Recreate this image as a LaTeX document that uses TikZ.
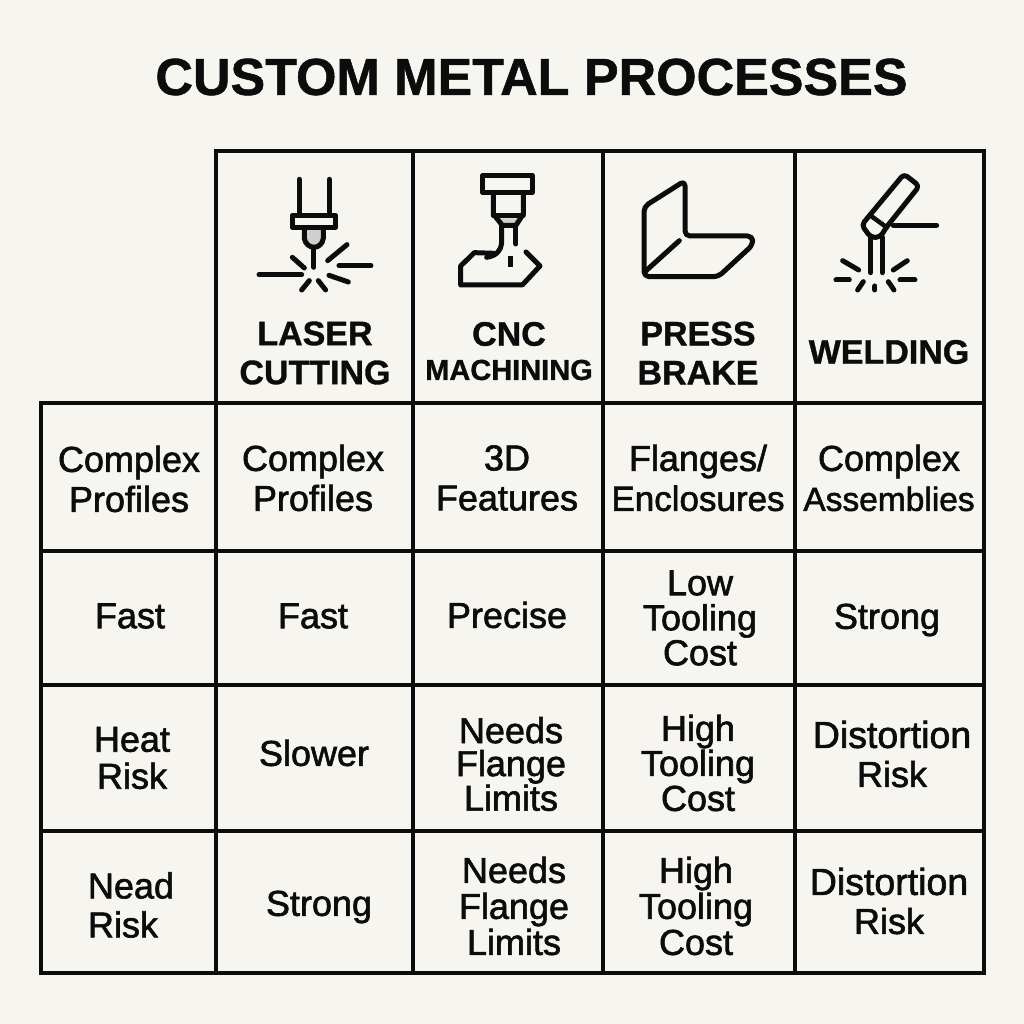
\documentclass[tikz,border=0pt]{standalone}
\usepackage{fontspec}
\setmainfont{Liberation Sans}
\newfontfamily\bodyf[FakeBold=1.7]{Liberation Sans}
\newfontfamily\headf[FakeBold=1.0]{Liberation Sans Bold}
\definecolor{paper}{HTML}{F7F5F0}
\definecolor{ink}{HTML}{0C0C0C}
\definecolor{fillgrey}{HTML}{CFCFCD}
\newcommand{\sz}[1]{\fontsize{#1}{39}\selectfont}
\tikzset{
  cell/.style={align=center,inner sep=0pt,text=ink,font=\bodyf\fontsize{36}{#1}\selectfont},
  cell/.default=38,
  head/.style={align=center,inner sep=0pt,text=ink,font=\headf\fontsize{#1}{39}\selectfont},
  grid/.style={draw=ink,line width=3.3pt,line cap=rect},
  icon/.style={draw=ink,line width=5pt,line cap=round,line join=round},
  thinicon/.style={draw=ink,line width=4.5pt,line cap=round,line join=round},
}
\begin{document}
\begin{tikzpicture}[x=1pt,y=-1pt]
\useasboundingbox[fill=paper] (0,0) rectangle (1024,1024);
% title
\node[head=52,anchor=center] (title) at (531.5,77) {CUSTOM METAL PROCESSES};
% grid
\draw[grid] (216,151) -- (984,151);
\draw[grid] (41,403) -- (984,403);
\draw[grid] (41,551) -- (984,551);
\draw[grid] (41,685) -- (984,685);
\draw[grid] (41,831) -- (984,831);
\draw[grid] (41,973) -- (984,973);
\draw[grid] (41,403) -- (41,973);
\draw[grid] (216,151) -- (216,973);
\draw[grid] (413,151) -- (413,973);
\draw[grid] (603,151) -- (603,973);
\draw[grid] (795,151) -- (795,973);
\draw[grid] (984,151) -- (984,973);
% laser icon
\begin{scope}[shift={(215,150)},x=0.3333pt,y=-0.3333pt]
\fill[fillgrey] (268,235) -- (268,265) .. controls (270,282) and (285,292) .. (297,292) .. controls (310,292) and (323,282) .. (325,265) -- (325,235) -- cycle;
\draw[icon] (253,88) -- (253,195);
\draw[icon] (343,88) -- (343,195);
\draw[icon,fill=paper] (232,196) rectangle (362,232);
\draw[icon] (268,235) -- (268,265) .. controls (270,282) and (285,292) .. (297,292) .. controls (310,292) and (323,282) .. (325,265) -- (325,235);
\draw[icon] (297,292) -- (297,352);
\draw[icon] (232,322) -- (268,354);
\draw[icon] (338,332) -- (396,284);
\draw[icon] (372,347) -- (468,347);
\draw[icon] (132,374) -- (260,374);
\draw[icon] (342,376) -- (400,396);
\draw[icon] (260,420) -- (283,392);
\draw[icon] (310,392) -- (332,420);
% cnc icon
\fill[fillgrey] (852,205) -- (908,205) -- (895,224) -- (865,224) -- cycle;
\draw[icon] (803,76) rectangle (952,128);
\draw[icon] (835,130) -- (835,192) -- (862,226) -- (903,226) -- (925,192) -- (925,130);
\draw[icon] (835,197) -- (925,197);
\draw[icon] (860,228) -- (860,280) .. controls (858,300) and (845,318) .. (815,322);
\draw[icon] (903,228) -- (903,282);
\draw[icon] (838,310) -- (778,308) -- (737,348) -- (737,405) -- (922,405) -- (975,348) -- (933,306);
\draw[icon,line cap=butt] (886,318) -- (886,350);
\end{scope}
% press brake and welding icons
\begin{scope}[shift={(600,150)},x=0.3333pt,y=-0.3333pt]
\draw[icon,rounded corners=5pt] (132,170) -- (255,92) -- (255,258) -- (458,258) -- (458,285) -- (355,380) -- (132,380) -- cycle;
\draw[icon] (135,365) -- (238,272);
\draw[icon,rounded corners=4pt] (785,225) -- (912,72) -- (958,108) -- (862,228) -- (840,262) -- (812,262) -- cycle;
\draw[thinicon] (812,197) -- (860,232);
\draw[icon] (812,262) -- (812,368);
\draw[icon] (847,262) -- (847,368);
\draw[icon] (880,226) -- (1010,226);
\draw[icon] (728,332) -- (776,360);
\draw[icon] (880,360) -- (922,332);
\draw[icon] (708,390) -- (748,390);
\draw[icon] (900,390) -- (945,390);
\draw[icon] (773,420) -- (790,395);
\draw[icon] (825,408) -- (825,420);
\draw[icon] (865,395) -- (882,420);
\end{scope}
% header labels
\node[head=34] (h1) at (315,353) {LASER\\CUTTING};
\node[head=34] (h2a) at (509,334) {CNC};
\node[head=29] (h2b) at (509,370) {MACHINING};
\node[head=34] (h3) at (698,353) {PRESS\\BRAKE};
\node[head=34] (h4) at (889,352) {WELDING};
% row 1
\node[cell=40] (a1) at (129,479) {Complex\\Profiles};
\node[cell=40] (b1) at (313,478) {Complex\\Profiles};
\node[cell=40] (c1) at (507,478) {3D\\Features};
\node[cell=40] (d1) at (698,478) {Flanges/\\\sz{35}Enclosures};
\node[cell=40] (e1) at (889,478) {Complex\\\sz{33.5}Assemblies};
% row 2
\node[cell] (a2) at (130,616) {Fast};
\node[cell] (b2) at (313,616) {Fast};
\node[cell] (c2) at (507,615) {Precise};
\node[cell=35] (d2) at (700,618) {Low\\Tooling\\Cost};
\node[cell] (e2) at (887,620) {Strong};
% row 3
\node[cell=37] (a3) at (132,758) {Heat\\Risk};
\node[cell] (b3) at (314,753) {Slower};
\node[cell=33] (c3) at (511,764) {Needs\\Flange\\Limits};
\node[cell=35] (d3) at (698,763) {High\\Tooling\\Cost};
\node[cell=39] (e3) at (892,754) {\sz{37.5}Distortion\\Risk};
% row 4
\node[cell=39,align=left] (a4) at (131,905) {Nead\\Risk};
\node[cell] (b4) at (319,907) {Strong};
\node[cell=36] (c4) at (514,906) {Needs\\Flange\\Limits};
\node[cell=36] (d4) at (696,906) {High\\Tooling\\Cost};
\node[cell=39] (e4) at (889,901) {\sz{37.5}Distortion\\Risk};
\end{tikzpicture}
\end{document}
